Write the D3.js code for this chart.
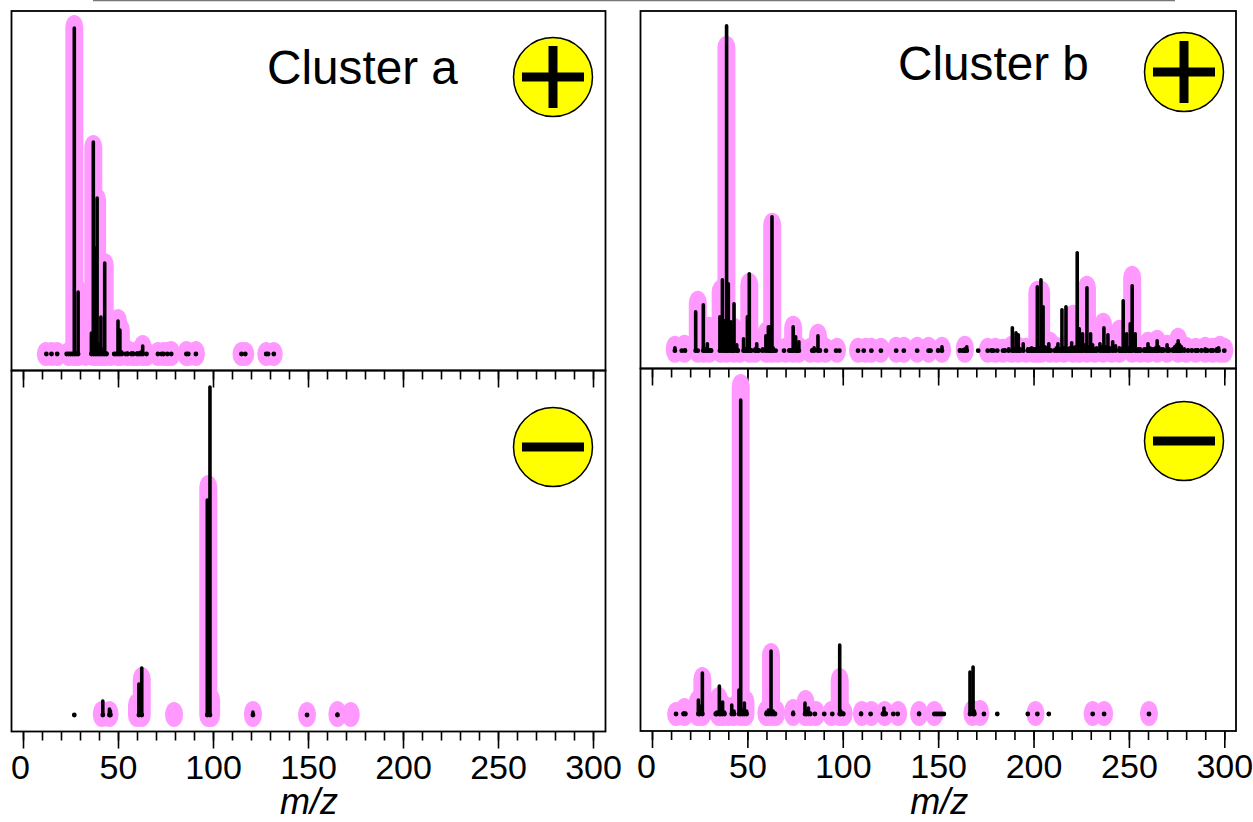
<!DOCTYPE html>
<html>
<head>
<meta charset="utf-8">
<script src="https://cdn.jsdelivr.net/npm/d3@7"></script>
<style>
  html, body { margin: 0; padding: 0; background: #fff; }
  svg { display: block; }
  text { font-family: "Liberation Sans", Arial, sans-serif; fill: #000; }
</style>
</head>
<body>
<div id="chart"></div>
<script>
// values: [m/z, intensity]
const aPosSticks = [[12.3,0],[15,0],[18,0],[23,0],[24,0],[25,0],[26,0],[27,326],[28,1],[29,62],
  [36,21],[37,212],[38,106],[39,156],[40,10],[41,37],[42,5],[43,91],[44,1],
  [48,0],[49,0],[50,33],[51,24],[52,2],[54,0],[55,1],[57,1],[58,1],[60,1],[61,1],[62,2],[63,8],[65,0],
  [71,0],[73,0],[74,0],[76,0],[78,0],[86,0],[87,0],[91,0],[115,0],[117,0],[128,0],[129,0],[132,0]];
const aPosPeaks = [[12,12],[15,12],[18,12],[24,12],[27,339],[29,74],[33,8],[37,219],[39,166],[41,60],
  [43,101],[46,12],[50,45],[51.5,36],[55,14],[58,12],[60,12],[63,19],[65,12],[71,12],[74,12],[76,12],[78,13],
  [86,13],[87,12],[91,13],[115,12],[117,12],[128,12],[132,12]];

const aNegSticks = [[27,0],[42,14],[45.5,6],[46,4],[61,31],[62.5,47],[97,215],[98.4,328],[121,3],[149.5,0],[165.5,1]];
const aNegPeaks = [[41.5,14],[45.5,14],[60,22],[62.5,48],[79.5,13],[97.5,240],[99,27],[121,14],[149.5,13],[165.5,14],[172.5,13]];

const bPosSticks = [[12,3],[15.6,0],[17.3,1],[22.9,39],[24,0],[26.9,46],[28,2],[29,7],[30,1],[31,1],
  [35.6,34],[36.9,71],[38,30],[39.1,325],[40,67],[41.4,29],[42,20],[43,47],[44.4,6],[45,1],
  [48,12],[49,2],[50,34],[51,77],[52,1],[54,2],[54.9,7],[56,1],[58,2],[59.7,15],[61,24],[62,24],[62.9,134],[63.5,3],
  [64.8,0],[69.2,0],[72,1],[73,1],[74,24],[75.3,14],[76,1],[77,9],[84,1],[85,3],[87,15],[88,1],
  [91.2,0],[96.5,0],[98.2,0],[108,0],[111,0],[115,0],[120,0],[128,0],[132,0],[139,0],[145,0],[146,0],[150,1],[152,4],
  [161.4,1],[163,1],[164,2],[165,4],[171,0],[176,0],[178,1],[179,0],[181,0],[184,0],[185,1],[187,2],[188.9,23],
  [189.5,3],[190.8,18],[192,16],[193,2],[194.6,7],[197,2],[198,2],[199,3],[200,2],[201,2],[202,64],[203,3],[203.9,71],
  [205,44],[206,4],[207,3],[208,7],[209,1],[211,1],[212,3],[212.8,7],[214,2],[214.9,41],[216,3],[217,44],[218,2],
  [219,3],[220,8],[221,3],[222,4],[222.9,98],[224,22],[225,5],[225.7,17],[227,6],[228,63],[229,4],[229.9,17],
  [231,6],[232,2],[233,3],[234.8,7],[236,4],[236.9,23],[238,4],[239,16],[240,3],[241.5,9],[243,5],[245,3],[246,2],
  [247,50],[248,3],[248.8,17],[250,3],[250.7,27],[251.7,65],[253.3,17],[254,2],[255,2],[256,2],[258,2],[259,2],
  [260,7],[261,3],[262,2],[263,2],[264,3],[264.8,10],[265.6,4],[267,2],[268,2],[270,6],[271,2],[273,2],[274,4],
  [275,6],[275.8,10],[276.6,6],[277.5,4],[279,2],[281,1],[283,1],[285,1],[286,1],[288,1],[290,2],[291,1],[293,1],
  [294,1],[296,2],[297,3],[300,0]];
const bPosPeaks = [[12,15],[17,16],[24,60],[27,30],[30,34],[36,71],[39,315],[43,33],[46,14],[51,78],[54,12],[60,29],[63,138],
  [66,13],[70,13],[74,35],[77,14],[83,13],[87,27],[91,13],[97,13],[108,13],[112,13],[115,13],[120,13],
  [128,14],[132,14],[139,14],[145,14],[152,14],[164,15],[176,13],[180,13],[184,12],[188.5,15],[192,14],[196,13],[200,13],
  [202,70],[204,70],[208.6,19],[212,14],[216,14],[220.8,46],[224,14],[228,75],[232,14],[236.5,38],[241,15],[245,31],
  [251.7,85],[256,13],[260,19],[264.8,21],[270,16],[275.8,23],[280,14],[285,13],[290,14],[294,13],[297.7,15],[300,13]];

const bNegSticks = [[12.6,0],[16.5,1],[17.5,1],[24.3,14],[25,8],[26.4,41],[33.4,1],[34,2],[35.3,28],[36,6],[37,12],[38,2],
  [41.8,9],[43,3],[45.6,24],[46.5,314],[47.5,4],[48.4,11],[49.6,3],[60,2],[61,4],[62.4,63],[63.5,3],[64.5,1],
  [74,2],[80.2,11],[81,3],[82,6],[83,1],[85.4,0],[90.3,0],[94.5,0],[98.4,69],[99,3],[100.3,1],[109.6,1],[114.6,0],
  [121,1],[121.6,6],[122.5,1],[126.5,0],[128.8,0],[140,1],[148,0],[149,0],[150,0],[151,0],[152,0],[153,0],
  [166.7,42],[168.3,47],[169,3],[174,0],[181,0],[197,0],[202,0],[208,0],[231,0],[237,0],[260.5,0]];
const bNegPeaks = [[12.6,12],[17,16],[24,24],[26.4,47],[35,27],[37,20],[40,12],[43,18],[46.5,340],[49,24],[60,14],[62.4,71],[65,14],
  [74,15],[80.5,24],[83,13],[86,13],[94,13],[98.4,46],[100.5,13],[110,13],[115,13],[122,13],[129,13],[140,13],[148,13],
  [168,14],[172,14],[201,13],[231,13],[237,13],[260.5,13]];

const xMinorTicks = [0,10,20,30,40,50,60,70,80,90,100,110,120,130,140,150,160,170,180,190,200,210,220,230,240,250,260,270,280,290,300];
const xMajorTicks = [0,50,100,150,200,250,300];

const panels = [
  { sticks: aPosSticks, peaks: aPosPeaks, base: 354, sign: "+", icon: [553, 77], frame: [11.5, 605.5, 11, 370.5], x0: 23, x300: 593, title: "Cluster a", tx: 267, ty: 84 },
  { sticks: aNegSticks, peaks: aNegPeaks, base: 715, sign: "-", icon: [553, 447], frame: [11.5, 605.5, 370.5, 731.5], x0: 23, x300: 593, labels: true, zero: 20 },
  { sticks: bPosSticks, peaks: bPosPeaks, base: 350.7, sign: "+", icon: [1184, 72], frame: [640.5, 1236, 11, 368.5], x0: 652, x300: 1224.3, title: "Cluster b", tx: 898, ty: 80 },
  { sticks: bNegSticks, peaks: bNegPeaks, base: 714, sign: "-", icon: [1184, 441], frame: [640.5, 1236, 368.5, 731], x0: 652, x300: 1224.3, labels: true, zero: 646 }
];

const width = 1253;
const height = 822;

const svg = d3.select("#chart").append("svg")
  .attr("width", width)
  .attr("height", height)
  .attr("viewBox", `0 0 ${width} ${height}`);

// stray line along the top edge of the figure
svg.append("line")
  .attr("x1", 93).attr("x2", 1175)
  .attr("y1", 0.5).attr("y2", 0.5)
  .attr("stroke", "#777").attr("stroke-width", 1.5);

const peakW = 18;
const capH = 12;

panels.forEach((p) => {
  const x = d3.scaleLinear().domain([0, 300]).range([p.x0, p.x300]);
  const y = d3.scaleLinear().domain([0, 330]).range([p.base, p.base - 330]);
  const g = svg.append("g");

  // pink peak bands under the sticks
  g.selectAll("rect.peak")
    .data(p.peaks)
    .enter()
    .append("rect")
    .attr("class", "peak")
    .attr("x", (d) => x(d[0]) - peakW / 2)
    .attr("y", (d) => y(d[1]))
    .attr("width", peakW)
    .attr("height", (d) => p.base + capH - y(d[1]))
    .attr("rx", peakW / 2)
    .attr("ry", capH)
    .attr("fill", "#ff99ff");

  g.selectAll("line.stick")
    .data(p.sticks)
    .enter()
    .append("line")
    .attr("class", "stick")
    .attr("x1", (d) => x(d[0]))
    .attr("x2", (d) => x(d[0]))
    .attr("y1", p.base)
    .attr("y2", (d) => y(d[1]))
    .attr("stroke", "#000")
    .attr("stroke-width", 3.6)
    .attr("stroke-linecap", "round");

  // every stick sits on a small dot, which is all that shows for the weak ones
  g.selectAll("circle.foot")
    .data(p.sticks)
    .enter()
    .append("circle")
    .attr("class", "foot")
    .attr("cx", (d) => x(d[0]))
    .attr("cy", p.base)
    .attr("r", 2.4)
    .attr("fill", "#000");

  // frame
  g.append("rect")
    .attr("x", p.frame[0])
    .attr("y", p.frame[2])
    .attr("width", p.frame[1] - p.frame[0])
    .attr("height", p.frame[3] - p.frame[2])
    .attr("fill", "none")
    .attr("stroke", "#000")
    .attr("stroke-width", 1.8);

  // ticks hanging off the bottom of the frame
  const axisG = g.append("g").attr("transform", `translate(0,${p.frame[3]})`);
  const minor = d3.axisBottom(x).tickValues(xMinorTicks).tickSize(9).tickSizeOuter(0).tickFormat("");
  const major = d3.axisBottom(x).tickValues(xMajorTicks).tickSize(17).tickSizeOuter(0).tickPadding(6)
    .tickFormat(p.labels ? d3.format("d") : "");
  axisG.append("g").call(minor).call((s) => s.select(".domain").remove());
  const maj = axisG.append("g").call(major);
  maj.select(".domain").remove();
  axisG.selectAll("line").attr("stroke", "#000").attr("stroke-width", 1.6);
  maj.selectAll("text")
    .style("font-family", '"Liberation Sans", Arial, sans-serif')
    .style("font-size", "34px")
    .attr("fill", "#000");
  if (p.labels) {
    maj.selectAll("text").filter((d) => d === 0).attr("dx", p.zero - p.x0);
    g.append("text")
      .attr("x", (p.x0 + p.x300) / 2 + 1)
      .attr("y", 814)
      .attr("text-anchor", "middle")
      .style("font-size", "36px")
      .style("font-style", "italic")
      .text("m/z");
  }

  if (p.title) {
    g.append("text")
      .attr("x", p.tx)
      .attr("y", p.ty)
      .style("font-size", "47.7px")
      .text(p.title);
  }

  // polarity badge
  const icon = g.append("g").attr("transform", `translate(${p.icon[0]},${p.icon[1]})`);
  icon.append("circle").attr("r", 39.5).attr("fill", "#ffff00").attr("stroke", "#000").attr("stroke-width", 1.5);
  icon.append("line").attr("x1", -31).attr("x2", 31).attr("stroke", "#000").attr("stroke-width", 9);
  if (p.sign === "+") {
    icon.append("line").attr("y1", -31).attr("y2", 31).attr("stroke", "#000").attr("stroke-width", 9);
  }
});
</script>
</body>
</html>
